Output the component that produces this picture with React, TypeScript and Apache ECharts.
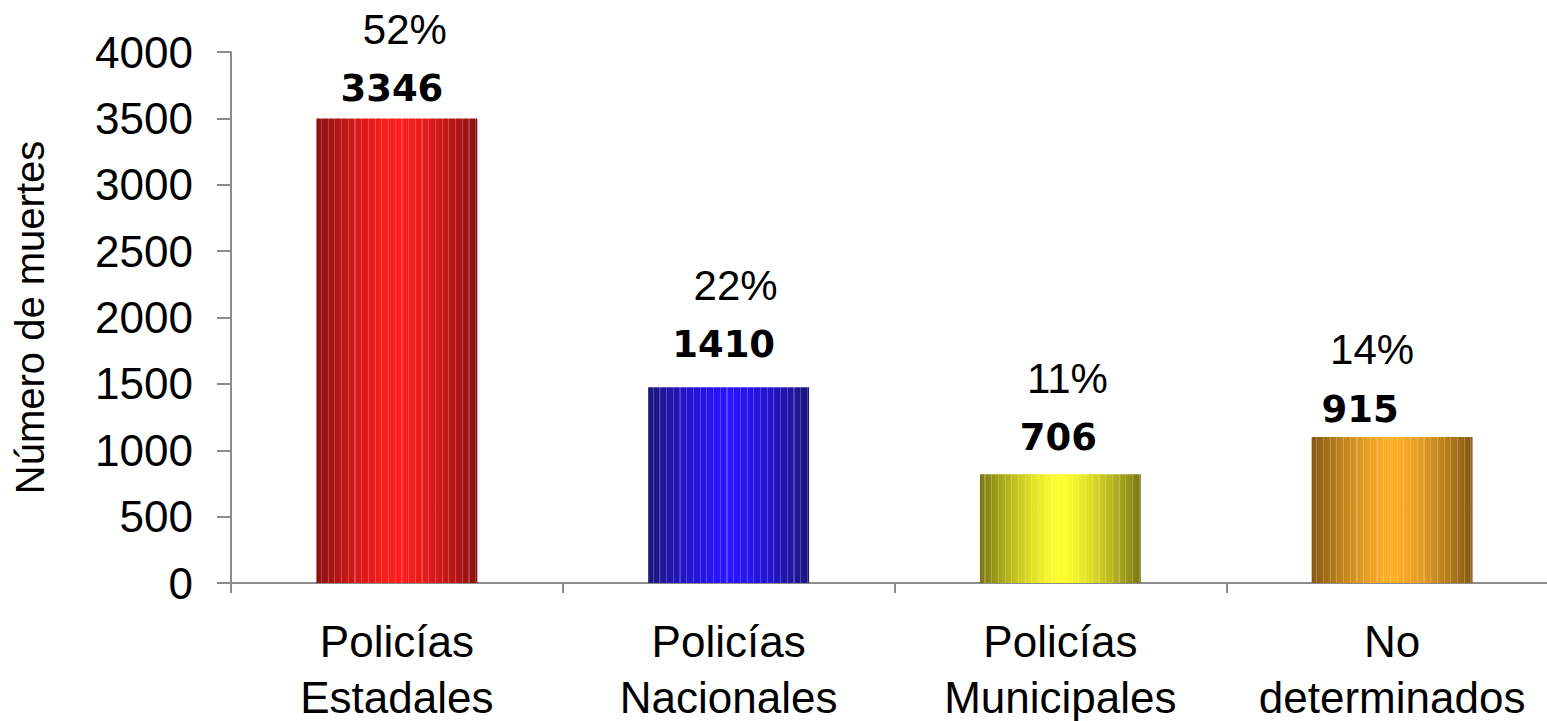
import React, { useEffect, useRef } from "react";
import * as echarts from "echarts";

// ---- data ----
const categories = ["Policías\nEstadales", "Policías\nNacionales", "Policías\nMunicipales", "No\ndeterminados"];
// bar heights as drawn in the picture
const barHeights = [3500, 1475, 820, 1100];
// numbers printed above bars
const countLabels = [3346, 1410, 706, 915];
const percentLabels = ["52%", "22%", "11%", "14%"];
const yTicks = { min: 0, max: 4000, interval: 500 };

// ---- styling (positions / colors) ----
const numberDistance = [11, 24, 18, 9];
const percentDistance = [68, 81, 75, 66];
const numberOffsetX = [-5, -5, -2, -32];
const percentOffsetX = [8, 7, 7, -20];
const barColors = [
  { dark: [138, 16, 16], bright: [255, 30, 30] },
  { dark: [28, 22, 120], bright: [40, 20, 255] },
  { dark: [120, 118, 18], bright: [255, 255, 42] },
  { dark: [134, 88, 18], bright: [255, 176, 40] },
];

function rgb(c: number[]) {
  return `rgb(${Math.round(c[0])},${Math.round(c[1])},${Math.round(c[2])})`;
}
function mix(a: number[], b: number[], t: number) {
  return [a[0] + (b[0] - a[0]) * t, a[1] + (b[1] - a[1]) * t, a[2] + (b[2] - a[2]) * t];
}
function stripeGradient(c: { dark: number[]; bright: number[] }) {
  const base = (t: number) => {
    const d = Math.abs(t - 0.5) * 2;
    return mix(c.bright, c.dark, Math.pow(d, 1.4));
  };
  const stops: { offset: number; color: string }[] = [];
  const stripeW = 0.007;
  const n = 24;
  for (let k = 0; k < n; k++) {
    const t0 = k / n;
    const t1 = (k + 1) / n;
    stops.push({ offset: t0, color: rgb(base(t0)) });
    const s = t1 - stripeW * 2;
    stops.push({ offset: s, color: rgb(base(s)) });
    const light = mix(base(s + stripeW), [255, 255, 255], 0.22);
    stops.push({ offset: s + 0.0005, color: rgb(light) });
    stops.push({ offset: s + stripeW, color: rgb(light) });
    stops.push({ offset: s + stripeW + 0.0005, color: rgb(base(s + stripeW)) });
  }
  stops.push({ offset: 1, color: rgb(base(1)) });
  return new echarts.graphic.LinearGradient(0, 0, 1, 0, stops);
}

const FONT = "'Liberation Sans', Arial, sans-serif";
const BOLD_FONT = "'DejaVu Sans', 'Liberation Sans', sans-serif";

export default function App() {
  const ref = useRef<HTMLDivElement>(null);
  useEffect(() => {
    if (!ref.current) return;
    const chart = echarts.init(ref.current, undefined, { renderer: "svg" });
    chart.setOption({
      animation: false,
      backgroundColor: "#ffffff",
      textStyle: { fontFamily: FONT },
      grid: { left: 231, right: -11, top: 52, bottom: 138, containLabel: false, outerBoundsMode: "none" },
      xAxis: {
        type: "category",
        data: categories,
        axisLine: { lineStyle: { color: "#8c8c8c", width: 2 } },
        axisTick: { show: true, length: 10, lineStyle: { color: "#8c8c8c", width: 2 } },
        axisLabel: {
          color: "#000",
          fontSize: 44,
          fontFamily: FONT,
          lineHeight: 56,
          margin: 30,
          interval: 0,
        },
      },
      yAxis: {
        type: "value",
        min: yTicks.min,
        max: yTicks.max,
        interval: yTicks.interval,
        name: "Número de muertes",
        nameLocation: "middle",
        nameGap: 181,
        nameTextStyle: { color: "#000", fontSize: 40, fontFamily: FONT },
        axisLine: { show: true, lineStyle: { color: "#8c8c8c", width: 2 } },
        axisTick: { show: true, length: 14, lineStyle: { color: "#8c8c8c", width: 2 } },
        axisLabel: {
          color: "#000",
          fontSize: 44,
          fontFamily: FONT,
          margin: 38,
          formatter: (v: number) => String(v),
        },
        splitLine: { show: false },
      },
      series: [
        {
          type: "bar",
          barWidth: "48.5%",
          data: barHeights.map((v, i) => ({
            value: v,
            itemStyle: { color: stripeGradient(barColors[i]) },
            label: {
              show: true,
              position: "top",
              distance: numberDistance[i],
              offset: [numberOffsetX[i], 0],
              formatter: String(countLabels[i]),
              color: "#000",
              fontSize: 37,
              lineHeight: 37,
              fontWeight: "bold",
              fontFamily: BOLD_FONT,
            },
          })),
          z: 2,
        },
        {
          type: "bar",
          barWidth: "48.5%",
          barGap: "-100%",
          silent: true,
          data: barHeights.map((v, i) => ({
            value: v,
            itemStyle: { color: "rgba(0,0,0,0)" },
            label: {
              show: true,
              position: "top",
              distance: percentDistance[i],
              offset: [percentOffsetX[i], 0],
              formatter: percentLabels[i],
              color: "#000",
              fontSize: 42,
              lineHeight: 42,
              fontFamily: FONT,
            },
          })),
          z: 1,
        },
      ],
    });
    return () => chart.dispose();
  }, []);
  return (
    <div
      ref={ref}
      style={{ position: "fixed", left: 0, top: 0, width: 1547, height: 721, background: "#fff" }}
    />
  );
}
